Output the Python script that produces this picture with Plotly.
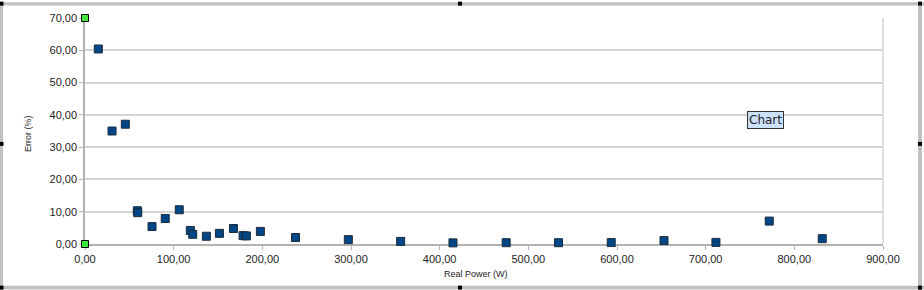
import plotly.graph_objects as go

# Data
real_power = [15, 30.5, 45.5, 59, 59.5, 75.6, 90.5, 106.3, 118.8, 121.5, 136.9, 151.6,
              167.4, 178.3, 182, 197.8, 237.4, 297, 356, 415, 475, 534, 593.5, 653,
              711.6, 771.7, 831.5]
error_pct = [60.4, 35.0, 37.1, 10.3, 9.7, 5.4, 7.9, 10.6, 4.2, 3.0, 2.4, 3.3,
             4.8, 2.6, 2.5, 3.9, 2.0, 1.35, 0.8, 0.35, 0.4, 0.4, 0.45, 1.05,
             0.5, 7.1, 1.65]
handle_x = [0, 0]
handle_y = [0, 70]

W, H = 924, 290
L, R, T, B = 85, 41, 16, 46
pw, ph = W - L - R, H - T - B

fig = go.Figure()
fig.add_trace(go.Scatter(
    x=real_power, y=error_pct, mode="markers",
    marker=dict(symbol="square", size=8, color="#004586",
                line=dict(color="#1c2c3c", width=1)),
    cliponaxis=False, showlegend=False, hoverinfo="skip"))
fig.add_trace(go.Scatter(
    x=handle_x, y=handle_y, mode="markers",
    marker=dict(symbol="square", size=7, color="#3ee63e",
                line=dict(color="#000000", width=1)),
    cliponaxis=False, showlegend=False, hoverinfo="skip"))

axis_common = dict(gridcolor="#d4d4d4", gridwidth=1.5,
                   ticks="outside", ticklen=4, tickcolor="#b3b3b3",
                   showline=True, linecolor="#b3b3b3", linewidth=1.5,
                   zeroline=False, tickformat=".2f", layer="below traces",
                   tickfont=dict(family="Liberation Sans", size=11, color="#222222"))

fig.update_layout(
    width=W, height=H,
    margin=dict(l=L, r=R, t=T, b=B),
    paper_bgcolor="white", plot_bgcolor="white",
    separators=",.",
    xaxis=dict(range=[0, 900], dtick=100, showgrid=False, **axis_common),
    yaxis=dict(range=[0, 70], dtick=10, showgrid=True, **axis_common),
    font=dict(family="Liberation Sans"),
)

# plot area right border
fig.add_shape(type="line", xref="paper", yref="paper", x0=1, x1=1, y0=0, y1=1,
              line=dict(color="#d4d4d4", width=1.5), layer="below")

# axis titles
fig.add_annotation(text="Error (%)", xref="paper", yref="paper",
                   x=(28 - L) / pw, y=(H - B - 133) / ph, textangle=-90,
                   showarrow=False, xanchor="center", yanchor="middle",
                   font=dict(family="Liberation Sans", size=9, color="#222222"))
fig.add_annotation(text="Real Power (W)", xref="paper", yref="paper",
                   x=(476 - L) / pw, y=-(274 - (H - B)) / ph,
                   showarrow=False, xanchor="center", yanchor="middle",
                   font=dict(family="Liberation Sans", size=9, color="#222222"))

# tooltip "Chart"
fig.add_annotation(text="Chart", xref="paper", yref="paper",
                   x=(765 - L) / pw, y=(H - B - 119) / ph,
                   showarrow=False, xanchor="center", yanchor="middle",
                   bgcolor="#cce0ff", bordercolor="#333333", borderwidth=1,
                   borderpad=1,
                   font=dict(family="DejaVu Sans", size=12, color="#222222"))

# frame (selection border) in pixel -> paper coords
def px(x):
    return (x - L) / pw

def py(y):
    return (H - B - y) / ph

frame_col = "#c0c0c0"
for (x0, y0, x1, y1) in [(0, 0, 924, 3.5), (0, 0, 3, 290), (0, 286, 924, 290), (918, 0, 922, 290)]:
    fig.add_shape(type="rect", xref="paper", yref="paper",
                  x0=px(x0), x1=px(x1), y0=py(y1), y1=py(y0),
                  fillcolor=frame_col, line=dict(width=0), layer="above")

# black handles
for (cx, cy) in [(1.5, 1.5), (460, 1.5), (920, 1.5), (1.5, 143), (920, 143),
                 (1.5, 288), (460, 288), (920, 288)]:
    fig.add_shape(type="rect", xref="paper", yref="paper",
                  x0=px(cx - 2), x1=px(cx + 2), y0=py(cy + 2), y1=py(cy - 2),
                  fillcolor="#000000", line=dict(width=0), layer="above")

fig.write_html("out.html")
